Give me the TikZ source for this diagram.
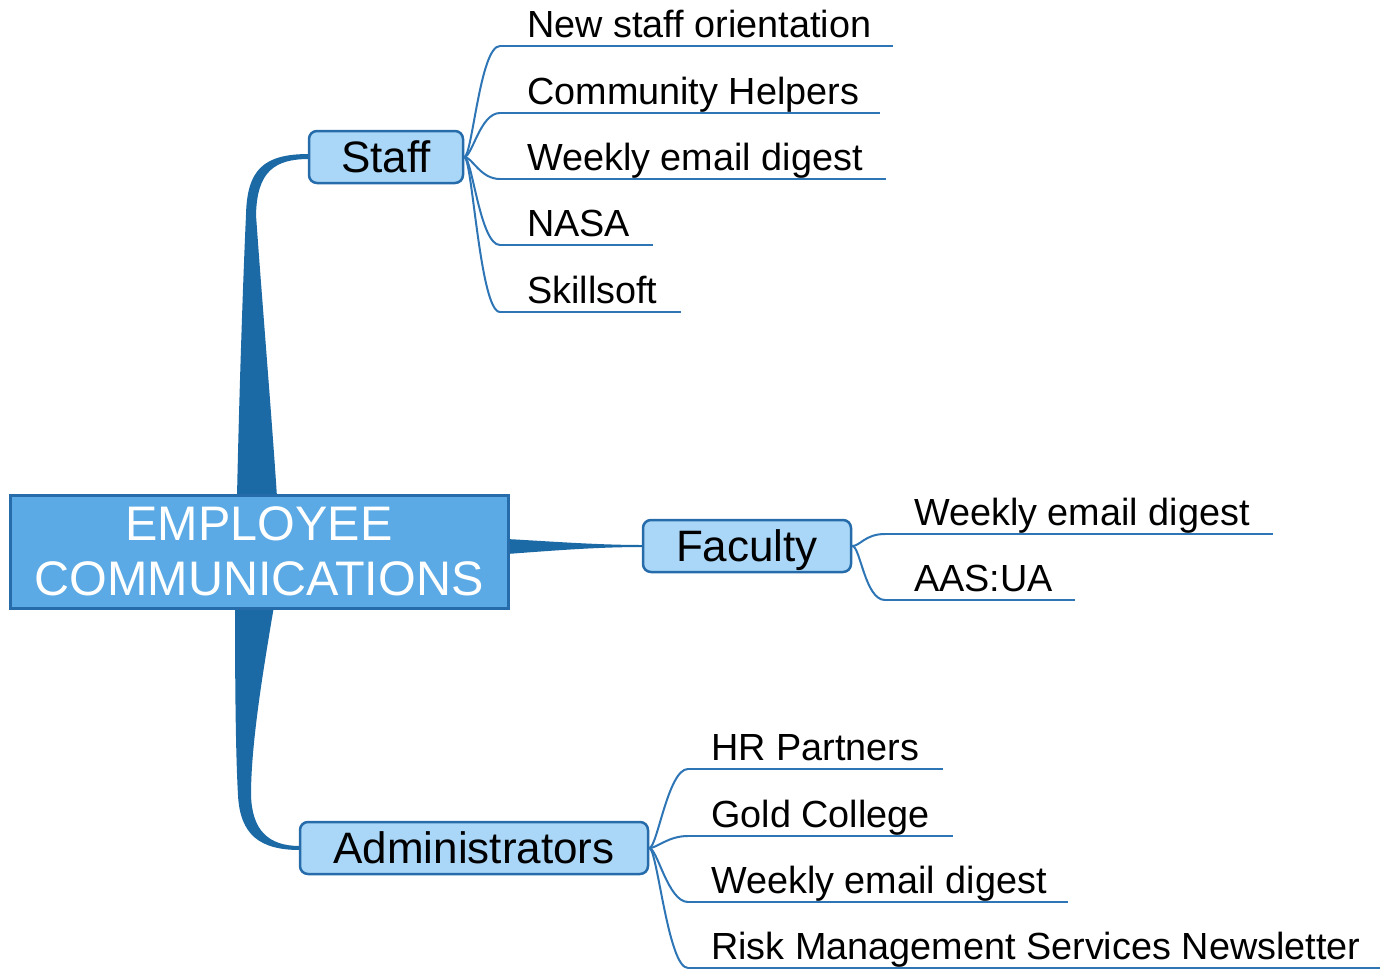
\documentclass[tikz,border=0pt]{standalone}
\usepackage{fontspec}
\setmainfont{Liberation Sans}
\usetikzlibrary{calc}
\definecolor{branch}{RGB}{27,106,165}
\definecolor{cfill}{RGB}{91,170,229}
\definecolor{cborder}{RGB}{38,108,170}
\definecolor{sfill}{RGB}{170,215,247}
\definecolor{leafcol}{RGB}{46,117,182}
\begin{document}
\begin{tikzpicture}[x=1pt,y=-1pt,
  central/.style={draw=cborder, line width=3pt, fill=cfill, text=white, align=center,
    font=\fontsize{48.5}{55}\selectfont, minimum width=498pt, minimum height=113pt, inner sep=0pt},
  sub/.style={draw=cborder, line width=2.5pt, fill=sfill, rounded corners=8pt,
    font=\fontsize{44}{50}\selectfont, minimum height=52pt, inner sep=0pt,
    text height=31.7pt, text depth=0pt},
  leaf/.style={anchor=base west, font=\fontsize{37.8}{44}\selectfont, inner sep=0pt},
  leafline/.style={draw=leafcol, line width=2pt},
  underl/.style={draw=leafcol, line width=2.5pt},
  tbranch/.style={fill=branch, draw=none}]
\useasboundingbox (0,0) rectangle (1383,972);

% thick tapered branches (behind nodes)
\fill[tbranch] (237,497) .. controls (239,400) and (243,280) .. (246,215)
  .. controls (247,170) and (263,154) .. (309,154) -- (309,159)
  .. controls (274,159) and (257,172) .. (256,215)
  .. controls (262,300) and (272,420) .. (277,497) -- cycle;
\fill[tbranch] (235,606) .. controls (235,700) and (236,760) .. (238,795)
  .. controls (240,835) and (260,850) .. (300,850) -- (300,846)
  .. controls (268,846) and (252,830) .. (251,795)
  .. controls (251,740) and (265,660) .. (274,606) -- cycle;
\fill[tbranch] (507,539) .. controls (560,542) and (600,545) .. (643,545)
  -- (643,547) .. controls (600,547) and (560,550) .. (507,554) -- cycle;

% main nodes
\node[central] (root) at (259,551.5) {EMPLOYEE\\COMMUNICATIONS};
\node[sub, minimum width=154pt] (staff) at (386,157) {Staff};
\node[sub, minimum width=208pt] (faculty) at (747,546) {Faculty};
\node[sub, minimum width=348pt] (admin) at (474,848) {Administrators};

% staff leaves
\foreach \y/\xe/\t [count=\i] in {46/893/New staff orientation, 113/880/Community Helpers,
    179/886/Weekly email digest, 245/653/NASA, 312/681/Skillsoft} {
  \coordinate (s\i a) at (500,\y);
  \coordinate (s\i b) at (\xe,\y);
  \node[leaf] (s\i) at (527,\y-9) {\t};
  \draw[leafline] (staff.east) .. controls +(8,0) and +(-20,0) .. (s\i a);
  \draw[underl] (s\i a) -- (s\i b);
}
% faculty leaves
\foreach \y/\xe/\t [count=\i] in {534/1273/Weekly email digest, 600/1075/AAS:UA} {
  \coordinate (f\i a) at (885,\y);
  \coordinate (f\i b) at (\xe,\y);
  \node[leaf] (f\i) at (914,\y-9) {\t};
  \draw[leafline] (faculty.east) .. controls +(8,0) and +(-20,0) .. (f\i a);
  \draw[underl] (f\i a) -- (f\i b);
}
% admin leaves
\foreach \y/\xe/\t [count=\i] in {769/943/HR Partners, 836/953/Gold College,
    902/1068/Weekly email digest, 968/1380/Risk Management Services Newsletter} {
  \coordinate (a\i a) at (688,\y);
  \coordinate (a\i b) at (\xe,\y);
  \node[leaf] (a\i) at (711,\y-9) {\t};
  \draw[leafline] (admin.east) .. controls +(8,0) and +(-20,0) .. (a\i a);
  \draw[underl] (a\i a) -- (a\i b);
}
\end{tikzpicture}
\end{document}
